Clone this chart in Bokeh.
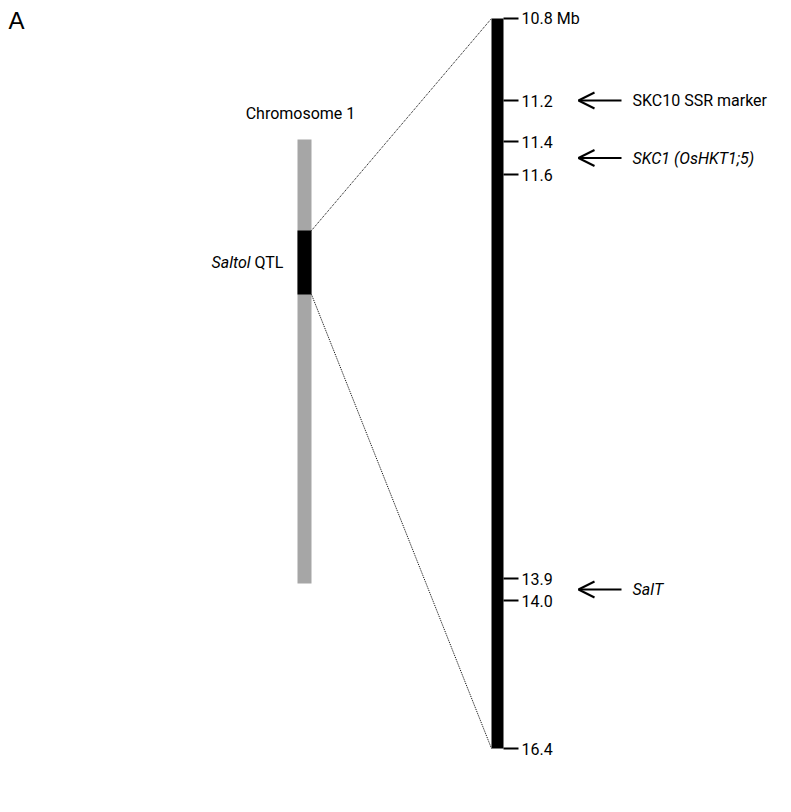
from bokeh.plotting import figure
from bokeh.models import Range1d, Arrow, OpenHead
from bokeh.core.properties import value
from bokeh.embed import file_html
from bokeh.resources import INLINE
import numpy as np

# ---- data ----
panel_label = "A"
chrom_label = "Chromosome 1"
qtl_name = "Saltol"
qtl_suffix = "QTL"
mb_values = [10.8, 11.2, 11.4, 11.6, 13.9, 14.0, 16.4]
tick_labels = ["10.8 Mb", "11.2", "11.4", "11.6", "13.9", "14.0", "16.4"]
gene_names = ["SKC10 SSR marker", "SKC1 (OsHKT1;5)", "SalT"]
gene_mb = [11.2, 11.5, 13.95]
gene_italic = [False, True, True]

# ---- layout (schematic, not to scale) ----
schem_y = [18, 100, 141, 174, 578, 600, 748]   # schematic position of each tick
bar_x0, bar_x1 = 491, 503
chrom_x0, chrom_x1 = 297, 311
chrom_top, chrom_bot = 139, 583
qtl_top, qtl_bot = 230, 294
FONT = "Roboto"
FS = "16px"

def ymap(mb):
    return np.interp(mb, mb_values, schem_y)

W, H = 775, 796
p = figure(width=W, height=H, output_backend="svg", toolbar_location=None,
           x_range=Range1d(0, W), y_range=Range1d(H, 0),
           min_border=0, outline_line_color=None)
p.axis.visible = False
p.grid.visible = False

# chromosome
p.quad(left=[chrom_x0], right=[chrom_x1], top=[chrom_top], bottom=[chrom_bot],
       fill_color="#a6a6a6", line_color=None)
p.quad(left=[chrom_x0], right=[chrom_x1], top=[qtl_top], bottom=[qtl_bot],
       fill_color="black", line_color=None)

# zoomed bar
top_y, bot_y = ymap(mb_values[0]), ymap(mb_values[-1])
p.quad(left=[bar_x0], right=[bar_x1], top=[top_y], bottom=[bot_y],
       fill_color="black", line_color=None)

# dotted connectors
p.segment(x0=[chrom_x1, chrom_x1], y0=[qtl_top, qtl_bot],
          x1=[bar_x0, bar_x0], y1=[top_y, bot_y],
          line_color="black", line_width=1, line_dash="1 1")

# ticks
ty = ymap(mb_values)
p.segment(x0=[bar_x1] * len(ty), y0=ty, x1=[bar_x1 + 15] * len(ty), y1=ty,
          line_color="black", line_width=2)
p.text(x=[bar_x1 + 18] * len(ty), y=ty, text=tick_labels,
       text_font=value(FONT), text_font_size=FS, text_baseline="middle",
       text_align="left", text_color="black")

# gene arrows
gy = ymap(gene_mb)
for name, y, it in zip(gene_names, gy, gene_italic):
    p.add_layout(Arrow(end=OpenHead(size=16, line_width=2, line_color="black"),
                       x_start=621, y_start=y, x_end=578, y_end=y,
                       line_width=2, line_color="black"))
    p.text(x=[632], y=[y], text=[name], text_font=value(FONT), text_font_size=FS,
           text_font_style="italic" if it else "normal",
           text_baseline="middle", text_align="left", text_color="black")

# labels
p.text(x=[300], y=[113], text=[chrom_label], text_font=value(FONT), text_font_size=FS,
       text_baseline="middle", text_align="center", text_color="black")
p.text(x=[250], y=[262], text=[qtl_name], text_font=value(FONT), text_font_size=FS,
       text_font_style="italic", text_baseline="middle", text_align="right", text_color="black")
p.text(x=[254], y=[262], text=[qtl_suffix], text_font=value(FONT), text_font_size=FS,
       text_baseline="middle", text_align="left", text_color="black")
p.text(x=[8], y=[20], text=[panel_label], text_font=value("Liberation Sans"), text_font_size="24px",
       text_baseline="middle", text_align="left", text_color="black")

open("out.html", "w").write(file_html(p, INLINE))
